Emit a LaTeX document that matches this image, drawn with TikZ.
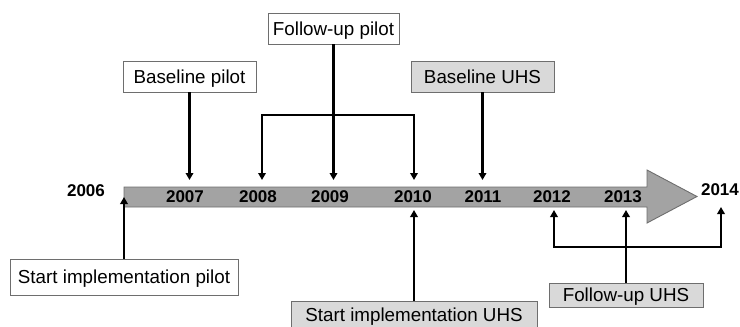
\documentclass[tikz,border=0pt]{standalone}
\usepackage{fontspec}
\setmainfont{Liberation Sans}
\usepackage{tikz}
\usetikzlibrary{positioning, arrows.meta, calc}

\definecolor{boxgray}{HTML}{D9D9D9}
\definecolor{shaftgray}{HTML}{A3A3A3}
\definecolor{edgegray}{HTML}{6E6E6E}

\tikzset{
    evbox/.style={draw=edgegray, line width=0.9pt, inner sep=0pt, text depth=0pt,
        font=\fontsize{18.8}{22}\selectfont},
    pilotbox/.style={evbox, fill=white},
    uhsbox/.style={evbox, fill=boxgray},
    year/.style={font=\fontsize{17}{20}\selectfont\bfseries, inner sep=0pt},
    stem/.style={line width=2.3pt},
    tick/.style={stem, -{Triangle[length=7pt,width=7.5pt]}}
}

\begin{document}
\begin{tikzpicture}[x=1pt, y=-1pt]
    \useasboundingbox (0,0) rectangle (740,327);

    % time line
    \draw[draw=edgegray, fill=shaftgray, line width=0.9pt]
        (124,187) -- (647,187) -- (647,170) -- (697,196.5)
        -- (647,223) -- (647,207) -- (124,207) -- cycle;

    \foreach \yr/\xx/\yy in {
        2006/86/191,
        2007/185/197,
        2008/258/197,
        2009/330/197,
        2010/413/197,
        2011/483/197,
        2012/552/197,
        2013/623/197,
        2014/720/189.5}{
        \node[year] (y\yr) at (\xx,\yy) {\yr};
    }

    % boxes
    \node[pilotbox, minimum width=133pt, minimum height=31pt] (bp) at (189.5,76.5) {Baseline pilot};
    \node[pilotbox, minimum width=131pt, minimum height=31pt] (fp) at (333.5,28.5) {Follow-up pilot};
    \node[uhsbox, minimum width=143pt, minimum height=31pt] (bu) at (482.5,76.5) {Baseline UHS};
    \node[pilotbox, minimum width=228pt, minimum height=36pt] (sp) at (124,277) {Start implementation pilot};
    \node[uhsbox, minimum width=246pt, minimum height=27pt] (su) at (414,314.5) {Start implementation UHS};
    \node[uhsbox, minimum width=154pt, minimum height=24pt] (fu) at (626,295) {Follow-up UHS};

    % arrow ends
    \coordinate (t2006) at (124,197);
    \coordinate (t2007) at (189.5,180);
    \coordinate (t2008) at (262,180);
    \coordinate (t2009) at (333.5,180);
    \coordinate (t2010) at (414,180);
    \coordinate (t2011) at (482.5,180);
    \coordinate (u2010) at (414,210);
    \coordinate (u2012) at (554,210);
    \coordinate (u2013) at (626,210);
    \coordinate (u2014) at (721,207);
    \coordinate (fpj) at (333.5,115);
    \coordinate (fuj) at (626,247);

    % pilot
    \draw[tick] (bp.south) -- (t2007);
    \draw[stem] (fp.south) -- (fpj);
    \draw[tick] (fpj) -| (t2008);
    \draw[tick] (fpj) -- (t2009);
    \draw[tick] (fpj) -| (t2010);
    \draw[tick] (sp.north) -- (t2006);

    % UHS
    \draw[tick] (bu.south) -- (t2011);
    \draw[tick] (su.north) -- (u2010);
    \draw[tick] (fu.north) -- (u2013);
    \draw[tick] (fuj) -| (u2012);
    \draw[tick] (fuj) -| (u2014);
\end{tikzpicture}
\end{document}
